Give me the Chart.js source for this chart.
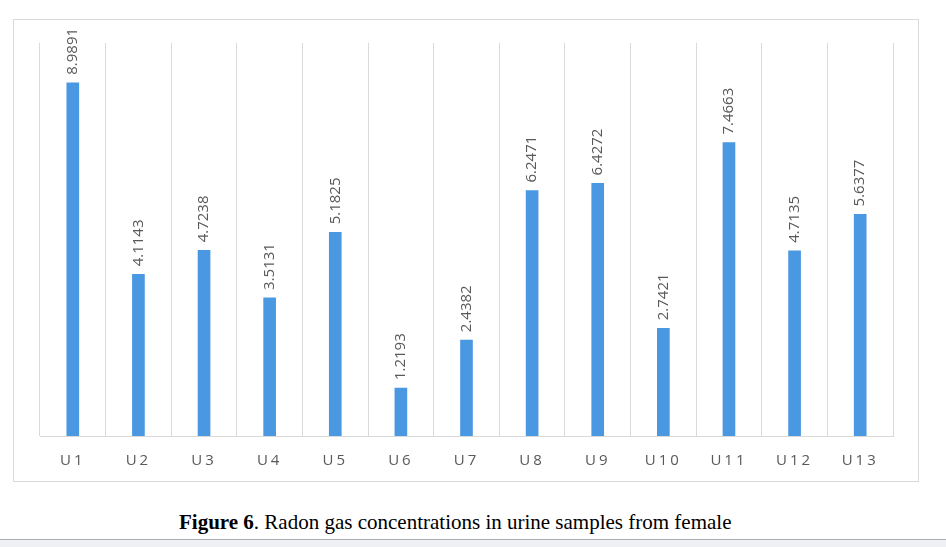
<!DOCTYPE html>
<html>
<head>
<meta charset="utf-8">
<script src="https://cdn.jsdelivr.net/npm/chart.js@4"></script>
<style>
  body { margin: 0; background: #fff; width: 946px; height: 547px; position: relative; overflow: hidden; }
  #box { position: absolute; left: 13px; top: 19px; width: 904px; height: 461px; border: 1px solid #d9d9d9; }
  #wrap { position: absolute; left: 0; top: 0; width: 946px; height: 490px; }
  #caption { position: absolute; left: 179px; top: 510px; white-space: nowrap;
    font-family: "Liberation Serif", "Times New Roman", serif; font-size: 21px; color: #000; }
  #status { position: absolute; left: 0; top: 539px; width: 946px; height: 8px;
    background: #eef0f3; border-top: 1px solid #a9acb0; }
</style>
</head>
<body>
<div id="box"></div>
<div id="wrap"><canvas id="chart"></canvas></div>
<div id="caption"><b>Figure 6</b>. Radon gas concentrations in urine samples from female</div>
<div id="status"></div>
<script>
const samples = ["U1", "U2", "U3", "U4", "U5", "U6", "U7", "U8", "U9", "U10", "U11", "U12", "U13"];
const radon = [8.9891, 4.1143, 4.7238, 3.5131, 5.1825, 1.2193, 2.4382, 6.2471, 6.4272, 2.7421, 7.4663, 4.7135, 5.6377];

// tick labels are letter spaced, value labels are not
const spacing = {
  id: "spacing",
  beforeDraw(chart) {
    chart.ctx.letterSpacing = "3px";
  }
};

const valueLabels = {
  id: "valueLabels",
  afterDatasetsDraw(chart) {
    const ctx = chart.ctx;
    const meta = chart.getDatasetMeta(0);
    ctx.save();
    ctx.letterSpacing = "0px";
    ctx.font = "15px 'Open Sans', sans-serif";
    ctx.fillStyle = "#595959";
    ctx.textAlign = "left";
    ctx.textBaseline = "middle";
    meta.data.forEach((bar, i) => {
      ctx.save();
      ctx.translate(bar.x, bar.y - 8);
      ctx.rotate(-Math.PI / 2);
      ctx.fillText(radon[i].toFixed(4), 0, 0);
      ctx.restore();
    });
    ctx.restore();
  }
};

new Chart(document.getElementById("chart"), {
  type: "bar",
  data: {
    labels: samples,
    datasets: [{
      data: radon,
      backgroundColor: "#4a97e2",
      barThickness: 12
    }]
  },
  options: {
    responsive: true,
    maintainAspectRatio: false,
    animation: false,
    layout: { padding: { left: 40, right: 53, top: 43, bottom: 4 } },
    plugins: { legend: { display: false }, tooltip: { enabled: false } },
    scales: {
      x: {
        grid: { color: "#d9d9d9", lineWidth: 1, drawTicks: false, offset: true },
        border: { color: "#d9d9d9", width: 1 },
        ticks: { color: "#595959", padding: 16, font: { family: "'Open Sans', sans-serif", size: 15 } }
      },
      y: { display: false, min: 0, max: 10 }
    }
  },
  plugins: [spacing, valueLabels]
});
</script>
</body>
</html>
